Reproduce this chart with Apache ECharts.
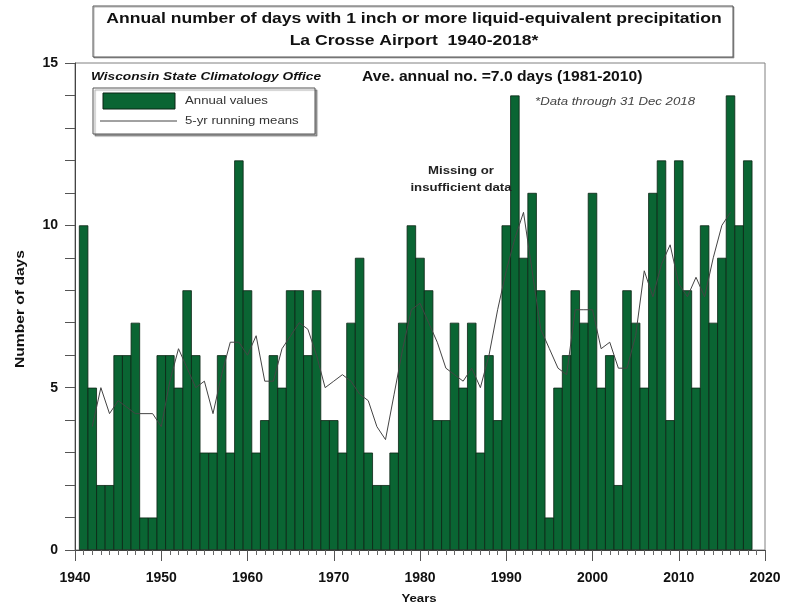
<!DOCTYPE html>
<html>
<head>
<meta charset="utf-8">
<script src="https://cdn.jsdelivr.net/npm/echarts@6/dist/echarts.min.js"></script>
<style>
  html, body { margin: 0; padding: 0; background: #fff; }
  #chart { width: 792px; height: 605px; }
</style>
</head>
<body>
<div id="chart"></div>
<script>
// years with annual values (1941-2018)
let years = [
    1941, 1942, 1943, 1944, 1945, 1946, 1947, 1948, 1949, 1950,
    1951, 1952, 1953, 1954, 1955, 1956, 1957, 1958, 1959, 1960,
    1961, 1962, 1963, 1964, 1965, 1966, 1967, 1968, 1969, 1970,
    1971, 1972, 1973, 1974, 1975, 1976, 1977, 1978, 1979, 1980,
    1981, 1982, 1983, 1984, 1985, 1986, 1987, 1988, 1989, 1990,
    1991, 1992, 1993, 1994, 1995, 1996, 1997, 1998, 1999, 2000,
    2001, 2002, 2003, 2004, 2005, 2006, 2007, 2008, 2009, 2010,
    2011, 2012, 2013, 2014, 2015, 2016, 2017, 2018
];

// days with >= 1 inch, per year
let annualValues = [
    10, 5, 2, 2, 6, 6, 7, 1, 1, 6,
    6, 5, 8, 6, 3, 3, 6, 3, 12, 8,
    3, 4, 6, 5, 8, 8, 6, 8, 4, 4,
    3, 7, 9, 3, 2, 2, 3, 7, 10, 9,
    8, 4, 4, 7, 5, 7, 3, 6, 4, 10,
    14, 9, 11, 8, 1, 5, 6, 8, 7, 11,
    5, 6, 2, 8, 7, 5, 11, 12, 4, 12,
    8, 5, 10, 7, 9, 14, 10, 12
];

// 5-yr running means (1942-2016)
let meanYears = years.slice(1, 76);
let meanValues = [
    3.8, 5.0, 4.2, 4.6, 4.4, 4.2, 4.2, 4.2, 3.8, 5.2,
    6.2, 5.6, 5.0, 5.2, 4.2, 5.4, 6.4, 6.4, 6.0, 6.6,
    5.2, 5.2, 6.2, 6.6, 7.0, 6.8, 6.0, 5.0, 5.2, 5.4,
    5.2, 4.8, 4.6, 3.8, 3.4, 4.8, 6.2, 7.4, 7.6, 7.0,
    6.4, 5.6, 5.4, 5.2, 5.6, 5.0, 6.0, 7.4, 8.6, 9.6,
    10.4, 8.6, 6.8, 6.2, 5.6, 5.4, 7.4, 7.4, 7.4, 6.2,
    6.4, 5.6, 5.6, 6.6, 8.6, 7.8, 8.8, 9.4, 8.2, 7.8,
    8.4, 7.8, 9.0, 10.0, 10.4
];

let xTicks = [1940, 1950, 1960, 1970, 1980, 1990, 2000, 2010, 2020];
let yTicks = [0, 5, 10, 15];

let font = "'Liberation Sans', Arial, sans-serif";
let barGreen = '#0a6533';

// 参考图的文字横向偏宽, 用 scaleX 拉伸
let label = function (txt, x, y, css, opts) {
    opts = opts || {};
    return {
        type: 'text', x: x, y: y, z: 20,
        scaleX: opts.sx || 1.2,
        rotation: opts.rot || 0,
        style: {
            text: txt, font: css + ' ' + font, fill: opts.fill || '#111',
            textAlign: opts.align || 'left', textVerticalAlign: 'middle'
        }
    };
};

let chart = echarts.init(document.getElementById('chart'));

chart.setOption({
    animation: false,
    backgroundColor: '#fff',
    grid: {
        left: 75, right: 27, top: 63, bottom: 55,
        show: true,
        borderColor: '#808080',
        borderWidth: 1
    },
    xAxis: {
        type: 'value',
        min: xTicks[0],
        max: xTicks[xTicks.length - 1],
        interval: 10,
        axisLine: { lineStyle: { color: '#444', width: 1 } },
        axisTick: { length: 11, lineStyle: { color: '#555' } },
        minorTick: { show: true, splitNumber: 10, length: 5, lineStyle: { color: '#666' } },
        splitLine: { show: false },
        axisLabel: {
            margin: 21,
            fontFamily: font, fontWeight: 'bold', fontSize: 14, color: '#111',
            formatter: function (v) { return String(v); }
        }
    },
    yAxis: {
        type: 'value',
        min: yTicks[0],
        max: yTicks[yTicks.length - 1],
        interval: 5,
        axisLine: { show: true, lineStyle: { color: '#444', width: 1 } },
        axisTick: { length: 10, lineStyle: { color: '#555' } },
        minorTick: { show: true, splitNumber: 5, length: 10, lineStyle: { color: '#555' } },
        splitLine: { show: false },
        axisLabel: {
            margin: 17,
            fontFamily: font, fontWeight: 'bold', fontSize: 14, color: '#111'
        }
    },
    graphic: [
        // title box
        {
            type: 'rect', z: 10,
            shape: { x: 93, y: 6, width: 640, height: 51 },
            style: { fill: '#fff', stroke: '#555', lineWidth: 1, shadowColor: 'rgba(0,0,0,0.3)', shadowOffsetX: 1, shadowOffsetY: 1 }
        },
        label('Annual number of days with 1 inch or more liquid-equivalent precipitation', 414, 19, 'bold 15px', { align: 'center', sx: 1.17 }),
        label('La Crosse Airport  1940-2018*', 414, 41, 'bold 15px', { align: 'center', sx: 1.17 }),
        label('Wisconsin State Climatology Office', 91, 77, 'italic bold 11.5px', { sx: 1.19 }),
        label('Ave. annual no. =7.0 days (1981-2010)', 362, 77, 'bold 14px', { sx: 1.12 }),
        label('*Data through 31 Dec 2018', 535, 102, 'italic 11px', { fill: '#444', sx: 1.2 }),
        label('Missing or', 461, 171, 'bold 11px', { align: 'center', fill: '#222' }),
        label('insufficient data', 461, 188, 'bold 11px', { align: 'center', fill: '#222' }),
        label('Number of days', 20, 309, 'bold 13px', { align: 'center', rot: Math.PI / 2, sx: 1.2 }),
        label('Years', 419, 599, 'bold 11px', { align: 'center' }),
        // legend box
        {
            type: 'rect', z: 10,
            shape: { x: 93, y: 88, width: 222, height: 46 },
            style: { fill: '#fff', stroke: '#555', lineWidth: 1, shadowColor: 'rgba(0,0,0,0.35)', shadowOffsetX: 2, shadowOffsetY: 2, shadowBlur: 1 }
        },
        {
            type: 'rect', z: 11,
            shape: { x: 103, y: 93, width: 72, height: 16 },
            style: { fill: barGreen, stroke: '#0b2414', lineWidth: 1 }
        },
        {
            type: 'line', z: 11,
            shape: { x1: 100, y1: 121, x2: 177, y2: 121 },
            style: { stroke: '#444', lineWidth: 1 }
        },
        label('Annual values', 185, 101, '11px', { fill: '#333', sx: 1.2 }),
        label('5-yr running means', 185, 121, '11px', { fill: '#333', sx: 1.2 })
    ],
    series: [
        {
            name: 'Annual values',
            type: 'bar',
            barWidth: 9.4,
            barCategoryGap: '0%',
            barGap: '0%',
            itemStyle: { color: barGreen, borderColor: '#0b2414', borderWidth: 0.8 },
            data: years.map(function (y, i) { return [y, annualValues[i]]; })
        },
        {
            name: '5-yr running means',
            type: 'line',
            symbol: 'none',
            z: 5,
            lineStyle: { color: '#444', width: 1 },
            data: meanYears.map(function (y, i) { return [y, meanValues[i]]; })
        }
    ]
});
</script>
</body>
</html>
